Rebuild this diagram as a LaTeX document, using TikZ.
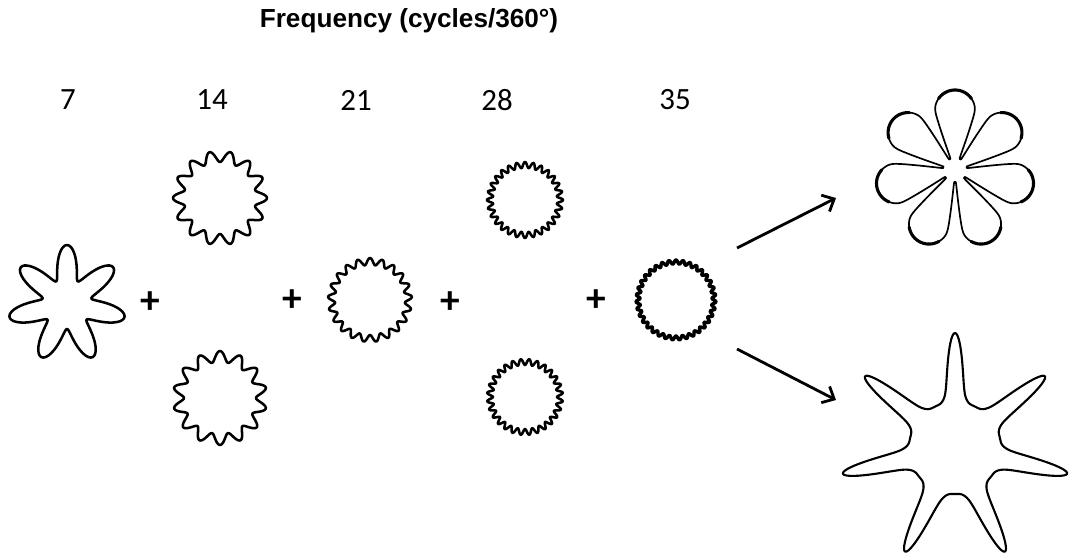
\documentclass[tikz,border=0pt]{standalone}
\usepackage{fontspec}
\setmainfont{Carlito}
\newfontfamily\titlefont{Liberation Sans}
\usetikzlibrary{arrows.meta}

\tikzset{
	rfline/.style={line width=1.8pt, line join=round},
	label/.style={font=\fontsize{22}{26}\selectfont},
	plus/.style={font=\fontsize{28}{30}\selectfont\bfseries},
	arr/.style={line width=2pt, -{Straight Barb[length=7pt,width=13pt,line width=2pt]}},
	declare function={
		flphi(\t)=acos(cos(7*(\t-90)))/7;
		flcap(\p)=60*cos(\p)+sqrt(max(0,400-3600*(sin(\p))^2));
		flowr(\t)=12+(flcap(flphi(\t))-12)/(1+exp(min(8,2.5*(flphi(\t)-20))));
		starq(\t)=(1+cos(7*(\t-90)))/2;
		starr(\t)=46+69*(0.75*starq(\t)^8+0.25*starq(\t)^2);
	}
}

\begin{document}
\begin{tikzpicture}[x=0.025cm, y=0.025cm]
	\useasboundingbox (0,0) rectangle (1077,554);

	\node[font=\titlefont\fontsize{18.6}{22}\selectfont\bfseries] (title) at (409,533) {Frequency (cycles/360°)};

	\node[label] (f7) at (68,454) {7};
	\node[label] (f14) at (212,454) {14};
	\node[label] (f21) at (356,454) {21};
	\node[label] (f28) at (497,454) {28};
	\node[label] (f35) at (675,454) {35};

	% components
	\coordinate (rf7) at (67,250);
	\coordinate (rf14a) at (220,356);
	\coordinate (rf14b) at (220,156);
	\coordinate (rf21) at (370,254);
	\coordinate (rf28a) at (525,354);
	\coordinate (rf28b) at (525,157);
	\coordinate (rf35) at (676,254);

	\draw[rfline, shift={(rf7)}] plot[domain=0:360, samples=181, smooth] (\x:{42+17*cos(7*(\x-90))}) -- cycle;
	\draw[rfline, shift={(rf14a)}] plot[domain=0:360, samples=241, smooth] (\x:{41.5-5.5*cos(14*(\x-90))}) -- cycle;
	\draw[rfline, shift={(rf14b)}] plot[domain=0:360, samples=241, smooth] (\x:{41.5+5.5*cos(14*(\x-90))}) -- cycle;
	\draw[rfline, shift={(rf21)}] plot[domain=0:360, samples=301, smooth] (\x:{38.5+3.5*cos(21*(\x-90))}) -- cycle;
	\draw[rfline, shift={(rf28a)}] plot[domain=0:360, samples=361, smooth] (\x:{35+3*cos(28*(\x-90))}) -- cycle;
	\draw[rfline, shift={(rf28b)}] plot[domain=0:360, samples=361, smooth] (\x:{35-3*cos(28*(\x-90))}) -- cycle;
	\draw[rfline, line width=2.4pt, shift={(rf35)}] plot[domain=0:360, samples=421, smooth] (\x:{38+2*cos(35*(\x-90))}) -- cycle;

	\node[plus] (p1) at (150,251) {+};
	\node[plus] (p2) at (292,253) {+};
	\node[plus] (p3) at (450,251) {+};
	\node[plus] (p4) at (596,253) {+};

	% sums
	\coordinate (flower) at (955,384);
	\coordinate (star) at (955,106);
	\draw[rfline, line width=1.2pt, shift={(flower)}] plot[domain=0:360, samples=721, smooth] (\x:{flowr(\x)}) -- cycle;
	\foreach \k in {0,...,6}
		\draw[rfline, line width=2.2pt, line cap=round, shift={(flower)}] plot[domain=-13:13, samples=31, smooth] ({90+\k*360/7+\x}:{flowr(90+\k*360/7+\x)});
	\draw[rfline, line width=1.5pt, shift={(star)}] plot[domain=0:360, samples=721, smooth] (\x:{starr(\x)}) -- cycle;

	\coordinate (a1) at (737,306);
	\coordinate (a1e) at (836,356);
	\coordinate (a2) at (737,205);
	\coordinate (a2e) at (836,154);
	\draw[arr] (a1) -- (a1e);
	\draw[arr] (a2) -- (a2e);

\end{tikzpicture}
\end{document}
